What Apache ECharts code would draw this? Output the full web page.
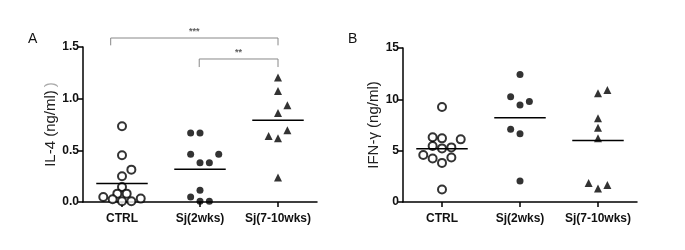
<!DOCTYPE html>
<html>
<head>
<meta charset="utf-8">
<script src="https://cdn.jsdelivr.net/npm/echarts@6/dist/echarts.min.js"></script>
<style>
  html, body { margin: 0; padding: 0; background: #fff; }
  #chart { width: 685px; height: 250px; }
</style>
</head>
<body>
<div id="chart"></div>
<script>
// groups along x (positions 0.5, 1.5, 2.5 on the x value axis)
const categories = ['CTRL', 'Sj(2wks)', 'Sj(7-10wks)']

// panel A, IL-4 (ng/ml): [x jitter from group centre, value]
const il4Ctrl = [[0, 0.733], [0, 0.452], [0.12, 0.313], [0, 0.249], [0, 0.145], [-0.06, 0.081], [0.06, 0.081],
  [-0.24, 0.048], [-0.12, 0.026], [0, 0.007], [0.12, 0.007], [0.24, 0.033]]
const il4Sj2 = [[-0.12, 0.668], [0, 0.668], [-0.12, 0.461], [0.24, 0.461], [0, 0.381], [0.12, 0.381],
  [0, 0.113], [-0.12, 0.048], [0, 0.007], [0.12, 0.007]]
const il4Sj7 = [[0, 1.204], [0, 1.074], [0.12, 0.936], [0, 0.861], [0.12, 0.694], [-0.12, 0.639], [0, 0.617], [0, 0.236]]
const il4Means = [0.178, 0.316, 0.791]
const il4Ticks = [0, 0.5, 1.0, 1.5]

// panel B, IFN-γ (ng/ml)
const ifnCtrl = [[0, 9.26], [-0.12, 6.30], [0, 6.20], [0.24, 6.10], [-0.12, 5.45], [0, 5.22], [0.12, 5.32],
  [-0.24, 4.57], [-0.12, 4.24], [0.12, 4.34], [0, 3.81], [0, 1.21]]
const ifnSj2 = [[0, 12.42], [-0.12, 10.24], [0.12, 9.78], [0, 9.46], [-0.12, 7.08], [0, 6.65], [0, 2.05]]
const ifnSj7 = [[0, 10.60], [0.12, 10.92], [0, 8.15], [0, 7.24], [0, 6.20], [-0.12, 1.86], [0, 1.31], [0.12, 1.66]]
const ifnMeans = [5.18, 8.21, 6.0]
const ifnTicks = [0, 5, 10, 15]

// significance brackets on panel A: [from group, to group, label]
const brackets = [[0, 2, '***'], [1, 2, '**']]

const centres = [0.5, 1.5, 2.5]
const halfMean = 0.33

function place (pts, g) {
  return pts.map(p => [centres[g] + p[0], p[1]])
}

const markerStyles = [
  { symbol: 'circle', symbolSize: 8, itemStyle: { color: '#fff', borderColor: '#000', borderWidth: 2 } },
  { symbol: 'circle', symbolSize: 7, itemStyle: { color: '#000' } },
  { symbol: 'triangle', symbolSize: 8, itemStyle: { color: '#000' } }
]

function xAxisFor (idx) {
  return {
    type: 'value',
    gridIndex: idx,
    min: 0,
    max: 3,
    splitLine: { show: false },
    axisLine: { lineStyle: { color: '#000', width: 1.5 } },
    axisTick: { customValues: centres, length: 5, lineStyle: { color: '#000', width: 1.5 } },
    axisLabel: {
      customValues: centres,
      margin: 11,
      fontFamily: 'Liberation Sans',
      fontWeight: 'bold',
      fontSize: 12,
      color: '#111',
      formatter: v => categories[Math.round(v - 0.5)]
    }
  }
}

function yAxisFor (idx, ticks, name, gap) {
  return {
    type: 'value',
    gridIndex: idx,
    min: ticks[0],
    max: ticks[ticks.length - 1],
    interval: ticks[1] - ticks[0],
    name: name,
    nameLocation: 'middle',
    nameGap: gap,
    nameTextStyle: {
      fontFamily: 'Liberation Sans',
      fontSize: 15,
      color: '#222',
      rich: { faint: { fontFamily: 'Liberation Sans', fontSize: 15, color: '#aaa', padding: [0, 0, 0, 3] } }
    },
    splitLine: { show: false },
    axisLine: { show: true, lineStyle: { color: '#000', width: 1.5 } },
    axisTick: { show: true, length: 5, lineStyle: { color: '#000', width: 1.5 } },
    axisLabel: {
      margin: 4,
      fontFamily: 'Liberation Sans',
      fontWeight: 'bold',
      fontSize: 12,
      color: '#111',
      formatter: v => (ticks[1] < 1 ? v.toFixed(1) : String(v))
    }
  }
}

const series = []
const panels = [
  { groups: [il4Ctrl, il4Sj2, il4Sj7], means: il4Means },
  { groups: [ifnCtrl, ifnSj2, ifnSj7], means: ifnMeans }
]
panels.forEach((panel, pi) => {
  panel.groups.forEach((pts, g) => {
    series.push(Object.assign({
      type: 'scatter',
      xAxisIndex: pi,
      yAxisIndex: pi,
      data: place(pts, g)
    }, markerStyles[g]))
    series.push({
      type: 'line',
      xAxisIndex: pi,
      yAxisIndex: pi,
      symbol: 'none',
      lineStyle: { color: '#000', width: 1.5 },
      data: [[centres[g] - halfMean, panel.means[g]], [centres[g] + halfMean, panel.means[g]]]
    })
  })
})

// brackets (drawn above the axis top, not clipped)
const bracketLevels = [[1.587, 1.516], [1.384, 1.306]]
brackets.forEach((b, i) => {
  const top = bracketLevels[i][0]
  const foot = bracketLevels[i][1]
  const x0 = i === 0 ? 0.355 : centres[b[0]] - 0.01
  const x1 = centres[b[1]]
  series.push({
    type: 'line',
    xAxisIndex: 0,
    yAxisIndex: 0,
    clip: false,
    symbol: 'none',
    lineStyle: { color: '#888', width: 1 },
    data: [[x0, foot], [x0, top], [x1, top], [x1, foot]]
  })
  series.push({
    type: 'scatter',
    xAxisIndex: 0,
    yAxisIndex: 0,
    clip: false,
    symbolSize: 1,
    itemStyle: { color: 'rgba(0,0,0,0)' },
    label: {
      show: true,
      position: 'top',
      distance: 1,
      formatter: b[2],
      fontFamily: 'Liberation Sans',
      fontWeight: 'bold',
      fontSize: 9,
      color: '#333'
    },
    data: [[(x0 + x1) / 2, top]]
  })
})

const chart = echarts.init(document.getElementById('chart'), null, { renderer: 'canvas' })
chart.setOption({
  animation: false,
  backgroundColor: '#fff',
  title: [
    { text: 'A', left: 23, top: 27, textStyle: { fontFamily: 'Liberation Sans', fontWeight: 'normal', fontSize: 14, color: '#111' } },
    { text: 'B', left: 343, top: 27, textStyle: { fontFamily: 'Liberation Sans', fontWeight: 'normal', fontSize: 14, color: '#111' } }
  ],
  grid: [
    { left: 83, right: 368, top: 47, bottom: 48 },
    { left: 403, right: 48, top: 48, bottom: 48 }
  ],
  xAxis: [xAxisFor(0), xAxisFor(1)],
  yAxis: [yAxisFor(0, il4Ticks, 'IL-4 (ng/ml){faint|)}', 20), yAxisFor(1, ifnTicks, 'IFN-γ (ng/ml)', 14)],
  series: series
})
</script>
</body>
</html>
